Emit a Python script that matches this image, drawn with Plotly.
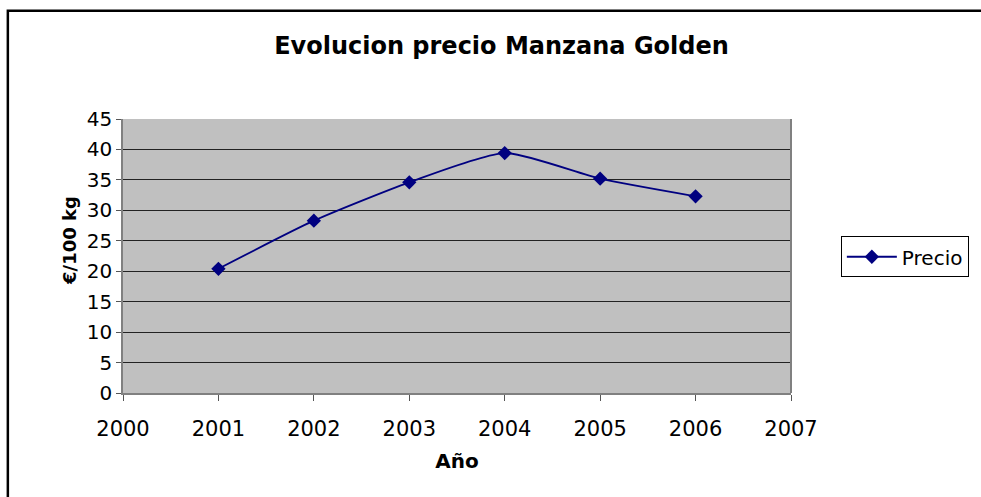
import plotly.graph_objects as go

years = [2001, 2002, 2003, 2004, 2005, 2006]
precio = [20.4, 28.3, 34.6, 39.4, 35.2, 32.3]
x_ticks = [2000, 2001, 2002, 2003, 2004, 2005, 2006, 2007]
y_ticks = [0, 5, 10, 15, 20, 25, 30, 35, 40, 45]

FONT = "DejaVu Sans, Arial, sans-serif"

fig = go.Figure()
fig.add_trace(go.Scatter(
    x=years, y=precio, name="Precio", mode="lines+markers",
    line=dict(color="#000080", width=1.8, shape="spline", smoothing=0.6),
    marker=dict(symbol="diamond", size=11, color="#000080"),
))

L, T, R, B = 123, 119, 793, 393.5
W, H = 981, 497
pw, ph = R - L, B - T

def px(x):
    return (x - L) / pw

def py(y):
    return (B - y) / ph

fig.update_layout(
    width=W, height=H,
    margin=dict(l=L, r=W - R, t=T, b=H - B, pad=0),
    paper_bgcolor="white",
    plot_bgcolor="#C0C0C0",
    font=dict(family=FONT, size=20, color="black"),
    title=dict(text="<b>Evolucion precio Manzana Golden</b>", x=501.5 / W, xanchor="center",
               y=1 - 46 / H, yanchor="middle", font=dict(size=24, family=FONT)),
    showlegend=True,
    legend=dict(x=px(843), y=py(257), xanchor="left", yanchor="middle",
                bordercolor="black", borderwidth=1, bgcolor="white",
                font=dict(size=20, family=FONT), itemwidth=50,
                tracegroupgap=0),
    xaxis=dict(range=[2000, 2007], tickvals=x_ticks, ticktext=[str(v) for v in x_ticks],
               showgrid=False, zeroline=False, showline=True, linecolor="#808080", linewidth=1.5,
               ticks="outside", ticklen=6, tickcolor="#555", mirror=False,
               ticklabelstandoff=10,
               title=dict(text="<b>Año</b>", font=dict(size=20, family=FONT), standoff=14),
               tickfont=dict(size=21)),
    yaxis=dict(range=[0, 45], tickvals=y_ticks, showgrid=True, gridcolor="#222", gridwidth=1,
               zeroline=False, showline=True, linecolor="#808080", linewidth=1.5,
               ticks="outside", ticklen=5, tickcolor="#555",
               title=dict(text="", font=dict(size=18, family=FONT)),
               tickfont=dict(size=20)),
    annotations=[
        dict(text="<b>€/100 kg</b>", xref="paper", yref="paper", x=px(70), y=py(241),
             xanchor="center", yanchor="middle", textangle=-90, showarrow=False,
             font=dict(size=18, family=FONT)),
    ],
    shapes=[
        dict(type="line", xref="paper", yref="paper", x0=1, x1=1, y0=0, y1=1,
             line=dict(color="#808080", width=2)),
        dict(type="rect", xref="paper", yref="paper",
             x0=px(7.5), x1=px(995), y0=py(10.5), y1=py(510),
             line=dict(color="black", width=2.5), layer="below"),
    ],
)

fig.write_html("out.html", config={"displayModeBar": False},
               post_script="document.body.style.margin='0px';document.body.style.overflow='hidden';")
